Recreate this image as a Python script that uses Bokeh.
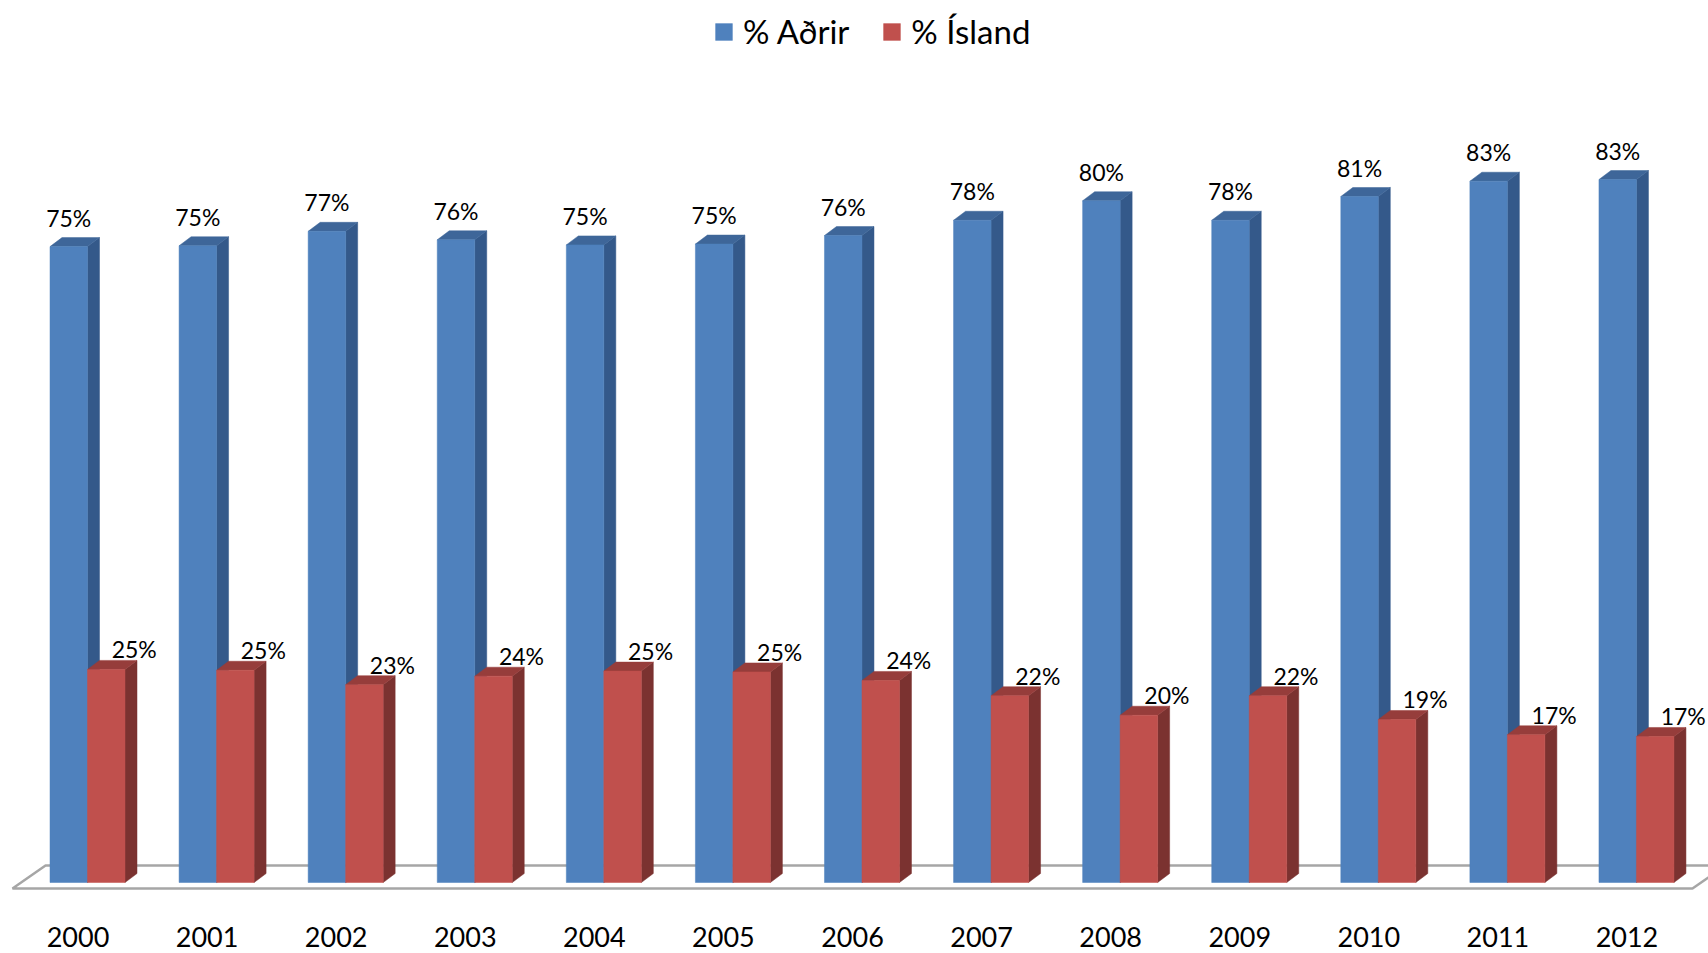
from bokeh.plotting import figure
from bokeh.models import Range1d, Legend, LegendItem, ColumnDataSource
from bokeh.core.properties import value
from bokeh.embed import file_html
from bokeh.resources import INLINE

years = ["2000", "2001", "2002", "2003", "2004", "2005", "2006",
         "2007", "2008", "2009", "2010", "2011", "2012"]
island = [25.1, 25.0, 23.3, 24.3, 24.9, 24.8, 23.8, 22.0, 19.7, 22.0, 19.2, 17.4, 17.2]
adrir = [round(100 - v, 1) for v in island]
series_names = ["% Aðrir", "% Ísland"]

FONT = "Lato"
W, H = 1708, 953
UX = 129.08   # px per category
UY = 8.49     # px per percent
x0 = -87 / UX
y0 = -(H - 882) / UY

p = figure(width=W, height=H, output_backend="svg", toolbar_location=None,
           x_range=Range1d(x0, x0 + W / UX), y_range=Range1d(y0, y0 + H / UY),
           min_border=0, outline_line_color=None,
           x_axis_location=None, y_axis_location=None)
p.grid.visible = False

n = len(years)
idx = list(range(n))
bw = 37.5 / UX
dx = 12 / UX
dy = 9 / UY

# floor
fy0, fy1 = -6 / UY, 17 / UY
p.patch([-0.581, -0.325, n - 1 + 0.69, n - 1 + 0.434], [fy0, fy1, fy1, fy0],
        fill_color="white", line_color="#A6A6A6", line_width=2.5)


def bars3d(lefts, vals, front, side, top):
    rights = [l + bw for l in lefts]
    src = ColumnDataSource(dict(l=lefts, r=rights, t=vals, b=[0] * len(vals)))
    sx = [[r, r + dx, r + dx, r] for r in rights]
    sy = [[0, dy, v + dy, v] for v in vals]
    p.patches(sx, sy, fill_color=side, line_color=side, line_width=0.5)
    tx = [[l, l + dx, r + dx, r] for l, r in zip(lefts, rights)]
    ty = [[v, v + dy, v + dy, v] for v in vals]
    p.patches(tx, ty, fill_color=top, line_color=top, line_width=0.5)
    return p.quad(left="l", right="r", top="t", bottom="b", source=src,
                  fill_color=front, line_color=front, line_width=0.5)


rb = bars3d([i - bw for i in idx], adrir, "#4F81BD", "#34598A", "#3E6699")
rr = bars3d([float(i) for i in idx], island, "#C0504D", "#7B3230", "#963D3B")

# value labels
p.text(x=[i - bw / 2 for i in idx], y=adrir, text=[f"{round(v)}%" for v in adrir],
       text_font=value(FONT), text_font_size="23px", text_color="black",
       text_align="center", text_baseline="middle", y_offset=-29)
p.text(x=[i + bw / 2 for i in idx], y=island, text=[f"{round(v)}%" for v in island],
       text_font=value(FONT), text_font_size="23px", text_color="black",
       text_align="center", text_baseline="middle", x_offset=28, y_offset=-20)

# category labels
p.text(x=idx, y=[0] * n, text=years, text_font=value(FONT), text_font_size="27px",
       text_color="black", text_align="center", text_baseline="middle",
       x_offset=-9.5, y_offset=54)

legend = Legend(items=[LegendItem(label=series_names[0], renderers=[rb]),
                       LegendItem(label=series_names[1], renderers=[rr])],
                orientation="horizontal", location=(713, 902),
                glyph_width=21, glyph_height=21, label_standoff=9, spacing=32,
                padding=0, margin=0, border_line_color=None,
                background_fill_alpha=0,
                label_text_font=FONT, label_text_font_size="33px",
                label_text_baseline="middle", label_text_color="black")
p.add_layout(legend)

open("out.html", "w").write(file_html(p, INLINE))
